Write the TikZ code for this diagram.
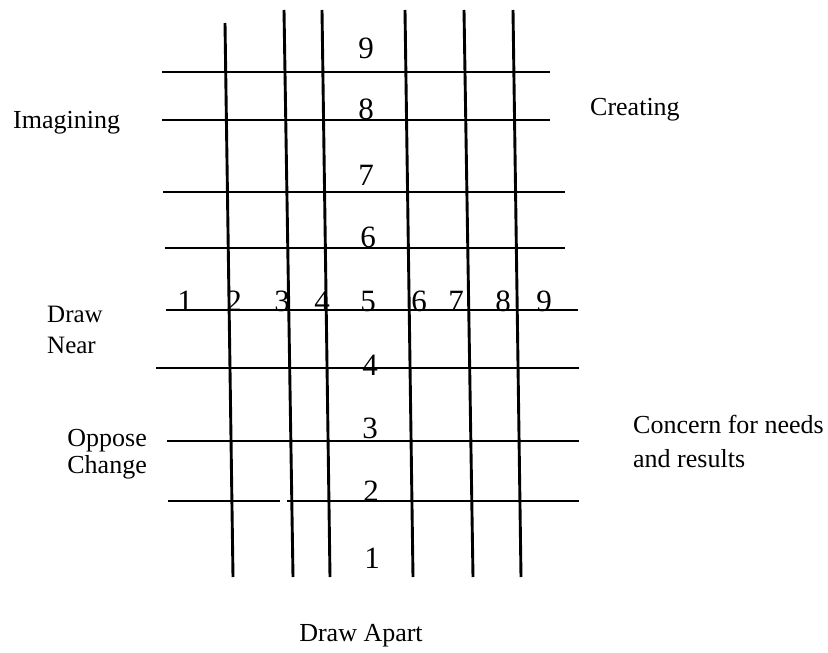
\documentclass[tikz,border=0pt]{standalone}
\usepackage{fontspec}
\setmainfont{Liberation Serif}
\begin{document}
\begin{tikzpicture}[x=1pt,y=-1pt,
  gridline/.style={line width=2.9pt,line cap=butt},
  lbl/.style={inner sep=0pt,font=\fontsize{26}{27}\selectfont},
  dig/.style={inner sep=0pt,anchor=base,font=\fontsize{31}{32}\selectfont}]
\useasboundingbox[fill=white] (0,0) rectangle (828,653);
% vertical lines
\draw[gridline] (225,23) -- (233,577);
\draw[gridline] (284,10) -- (293,577);
\draw[gridline] (322,10) -- (330,577);
\draw[gridline] (405,10) -- (413,577);
\draw[gridline] (464,10) -- (473,577);
\draw[gridline] (513,10) -- (521,577);
% horizontal lines
\draw[gridline] (162,72) -- (550,72);
\draw[gridline] (162,120) -- (550,120);
\draw[gridline] (163,192) -- (565,192);
\draw[gridline] (165,248) -- (565,248);
\draw[gridline] (166,310) -- (578,310);
\draw[gridline] (156,368) -- (579,368);
\draw[gridline] (167,441) -- (579,441);
\draw[gridline] (168,501) -- (280,501);
\draw[gridline] (287,501) -- (579,501);
% vertical scale digits
\node[dig] (v9) at (366,58) {9};
\node[dig] (v8) at (366,119) {8};
\node[dig] (v7) at (366,185) {7};
\node[dig] (v6) at (368,247) {6};
\node[dig] (v4) at (370,375) {4};
\node[dig] (v3) at (370,438) {3};
\node[dig] (v2) at (371,501) {2};
\node[dig] (v1) at (372,568) {1};
% horizontal scale digits
\node[dig] (h1) at (185,311) {1};
\node[dig] (h2) at (234,311) {2};
\node[dig] (h3) at (282,311) {3};
\node[dig] (h4) at (322,311) {4};
\node[dig] (h5) at (368,311) {5};
\node[dig] (h6) at (419,311) {6};
\node[dig] (h7) at (456,311) {7};
\node[dig] (h8) at (503,311) {8};
\node[dig] (h9) at (544,311) {9};
% side labels
\node[lbl,anchor=base west] (imag) at (13,128) {Imagining};
\node[lbl,anchor=base west] (creat) at (590,115) {Creating};
\node[lbl,anchor=base west,align=left,font=\fontsize{25}{31}\selectfont] (near) at (47,353) {Draw\\Near};
\node[lbl,anchor=base east,align=right] (oppose) at (147,473) {Oppose\\Change};
\node[lbl,anchor=base west,align=left,font=\fontsize{26}{34}\selectfont] (concern) at (633,467) {Concern for needs\\and results};
\node[lbl,anchor=base] (apart) at (361,641) {Draw Apart};
\end{tikzpicture}
\end{document}
